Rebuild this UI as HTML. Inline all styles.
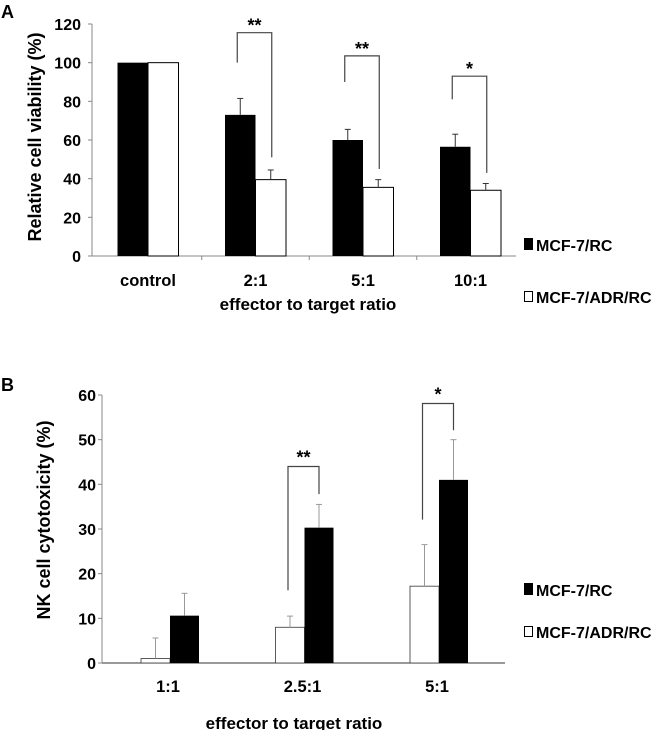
<!DOCTYPE html>
<html><head><meta charset="utf-8"><style>
body{margin:0;background:#fff;}
svg{display:block;font-family:"Liberation Sans",Arial,sans-serif;font-weight:bold;}
</style></head><body>
<svg id="chart" width="662" height="730" viewBox="0 0 662 730"></svg>
<script>
// Panel A data
const catsA = ["control","2:1","5:1","10:1"];
const rcA = [100,73,60,56.5];
const rcErrA = [0,8.5,5.5,6.5];
const adrA = [100,39.5,35.5,34];
const adrErrA = [0,5,4,3.5];
const ticksA = [0,20,40,60,80,100,120];
const brA = [{i:1,l:100,t:115.5,r:51,s:"**"},{i:2,l:90,t:103.5,r:45,s:"**"},{i:3,l:81,t:93,r:43,s:"*"}];
// Panel B data
const catsB = ["1:1","2.5:1","5:1"];
const adrB = [1,8,17.2];
const adrErrB = [4.6,2.5,9.3];
const rcB = [10.6,30.3,41];
const rcErrB = [5,5.2,9];
const ticksB = [0,10,20,30,40,50,60];
const brB = [{i:1,l:16.3,t:44,r:37.8,s:"**"},{i:2,l:32.1,t:58.1,r:52.1,s:"*"}];

const NS="http://www.w3.org/2000/svg";
const svg=document.getElementById('chart');
function el(tag,attrs,parent,text){const e=document.createElementNS(NS,tag);for(const k in attrs)e.setAttribute(k,attrs[k]);if(text!==undefined)e.textContent=text;(parent||svg).appendChild(e);return e;}

// ---- Panel A ----
const yA=v=>256-v*(232/120);
const xA=i=>148+i*107.5;
const bwA=30.5;
let t=el('text',{x:1,y:18,'font-size':18});t.textContent='A';


let l=el('line',{x1:92,y1:yA(0),x2:516,y2:yA(0),stroke:'#888','stroke-width':1});


l=el('line',{x1:92,y1:yA(0),x2:92,y2:yA(120),stroke:'#888','stroke-width':1});


ticksA.forEach(v=>{
  el('line',{x1:88,y1:yA(v),x2:92,y2:yA(v),stroke:'#888'});
  const tt=el('text',{x:81,y:yA(v)+6,'font-size':16,'text-anchor':'end'},svg,String(v));
  
  
});
for(let i=1;i<catsA.length;i++){el('line',{x1:xA(i)-53.75,y1:yA(0),x2:xA(i)-53.75,y2:yA(0)+4,stroke:'#888'});}
catsA.forEach((c,i)=>{
  const b=el('rect',{x:xA(i)-bwA,y:yA(rcA[i]),width:bwA,height:yA(0)-yA(rcA[i]),fill:'#000'});
  
  
  const w=el('rect',{x:xA(i),y:yA(adrA[i]),width:bwA,height:yA(0)-yA(adrA[i]),fill:'#fff',stroke:'#000','stroke-width':1});
  
  
  if(rcErrA[i]>0){const cx=xA(i)-bwA/2;el('line',{x1:cx,y1:yA(rcA[i]),x2:cx,y2:yA(rcA[i]+rcErrA[i]),stroke:'#333'});el('line',{x1:cx-3,y1:yA(rcA[i]+rcErrA[i]),x2:cx+3,y2:yA(rcA[i]+rcErrA[i]),stroke:'#333'});}
  if(adrErrA[i]>0){const cx=xA(i)+bwA/2;el('line',{x1:cx,y1:yA(adrA[i]),x2:cx,y2:yA(adrA[i]+adrErrA[i]),stroke:'#333'});el('line',{x1:cx-3,y1:yA(adrA[i]+adrErrA[i]),x2:cx+3,y2:yA(adrA[i]+adrErrA[i]),stroke:'#333'});}
  const tl=el('text',{x:xA(i),y:286,'font-size':16.5,'text-anchor':'middle'},svg,c);
  
  
});
brA.forEach(b=>{
  const x1=xA(b.i)-bwA/2-3,x2=xA(b.i)+bwA/2+1;
  const p=el('path',{d:`M${x1},${yA(b.l)}V${yA(b.t)}H${x2}V${yA(b.r)}`,fill:'none',stroke:'#444','stroke-width':1.2});
  
  
  const s=el('text',{x:(x1+x2)/2,y:yA(b.t)-1,'font-size':18,'text-anchor':'middle'},svg,b.s);
  
  
});
t=el('text',{x:308,y:310,'font-size':17,'text-anchor':'middle'},svg,'effector to target ratio');


t=el('text',{x:0,y:0,'font-size':18,'text-anchor':'middle',transform:'translate(41,137) rotate(-90)'},svg,'Relative cell viability (%)');


let g=el('g',{});


el('rect',{x:524,y:238,width:9,height:12,fill:'#000'},g);
el('text',{x:536,y:251,'font-size':16},g,'MCF-7/RC');
g=el('g',{});


el('rect',{x:524.5,y:291.5,width:8,height:10,fill:'#fff',stroke:'#000'},g);
el('text',{x:536,y:303,'font-size':16},g,'MCF-7/ADR/RC');

// ---- Panel B ----
const yB=v=>663-v*(268/60);
const xB=i=>170+i*134.5;
const bwB=29;
t=el('text',{x:1,y:391,'font-size':18},svg,'B');


l=el('line',{x1:102,y1:yB(0),x2:505,y2:yB(0),stroke:'#333','stroke-width':1});


l=el('line',{x1:102,y1:yB(0),x2:102,y2:yB(60),stroke:'#888','stroke-width':1});


ticksB.forEach(v=>{
  el('line',{x1:98,y1:yB(v),x2:102,y2:yB(v),stroke:'#888'});
  const tt=el('text',{x:96,y:yB(v)+6,'font-size':16,'text-anchor':'end'},svg,String(v));
  
  
});
catsB.forEach((c,i)=>{
  const w=el('rect',{x:xB(i)-bwB,y:yB(adrB[i]),width:bwB,height:yB(0)-yB(adrB[i]),fill:'#fff',stroke:'#333','stroke-width':0.8});
  
  
  const b=el('rect',{x:xB(i),y:yB(rcB[i]),width:bwB,height:yB(0)-yB(rcB[i]),fill:'#000'});
  
  
  let cx=xB(i)-bwB/2;
  el('line',{x1:cx,y1:yB(adrB[i]),x2:cx,y2:yB(adrB[i]+adrErrB[i]),stroke:'#999'});
  el('line',{x1:cx-3,y1:yB(adrB[i]+adrErrB[i]),x2:cx+3,y2:yB(adrB[i]+adrErrB[i]),stroke:'#999'});
  cx=xB(i)+bwB/2;
  el('line',{x1:cx,y1:yB(rcB[i]),x2:cx,y2:yB(rcB[i]+rcErrB[i]),stroke:'#999'});
  el('line',{x1:cx-3,y1:yB(rcB[i]+rcErrB[i]),x2:cx+3,y2:yB(rcB[i]+rcErrB[i]),stroke:'#999'});
  const tl=el('text',{x:xB(i)-2,y:692,'font-size':16.5,'text-anchor':'middle'},svg,c);
  
  
});
brB.forEach(b=>{
  const x1=xB(b.i)-bwB/2-2,x2=xB(b.i)+bwB/2;
  const p=el('path',{d:`M${x1},${yB(b.l)}V${yB(b.t)}H${x2}V${yB(b.r)}`,fill:'none',stroke:'#444','stroke-width':1.2});
  
  
  const s=el('text',{x:(x1+x2)/2,y:yB(b.t)-3,'font-size':18,'text-anchor':'middle'},svg,b.s);
  
  
});
t=el('text',{x:294,y:729,'font-size':17,'text-anchor':'middle'},svg,'effector to target ratio');


t=el('text',{x:0,y:0,'font-size':18,'text-anchor':'middle',transform:'translate(50,520) rotate(-90)'},svg,'NK cell cytotoxicity (%)');


g=el('g',{});


el('rect',{x:524,y:583,width:9,height:12,fill:'#000'},g);
el('text',{x:536,y:596,'font-size':16},g,'MCF-7/RC');
g=el('g',{});


el('rect',{x:524.5,y:626.5,width:8,height:10,fill:'#fff',stroke:'#000'},g);
el('text',{x:536,y:638,'font-size':16},g,'MCF-7/ADR/RC');
</script>
</body></html>
